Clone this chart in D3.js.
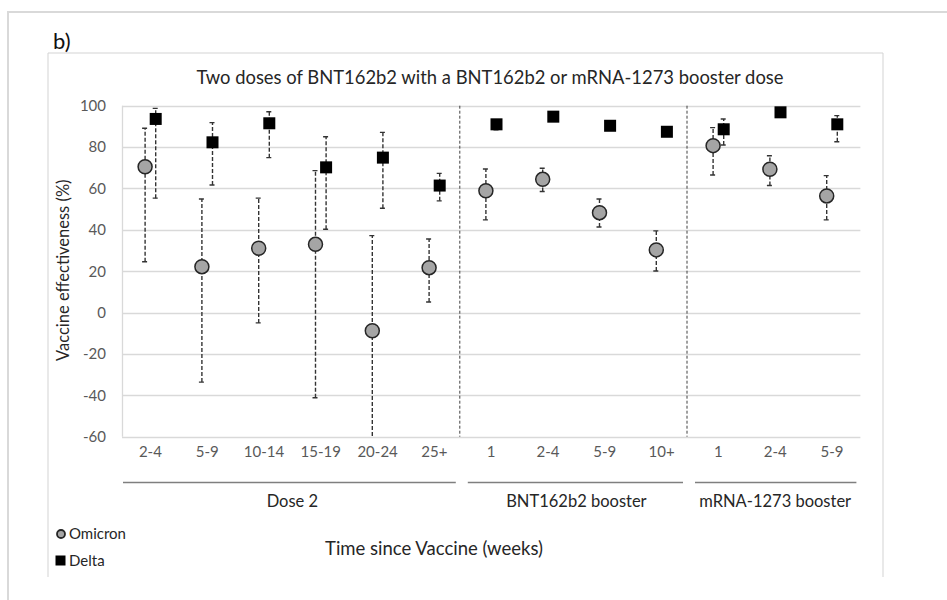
<!DOCTYPE html>
<html>
<head>
<meta charset="utf-8">
<script src="https://cdn.jsdelivr.net/npm/d3@7"></script>
<style>
  body { margin: 0; background: #fff; }
  svg { display: block; font-family: Lato, "Open Sans", sans-serif; }
</style>
</head>
<body>
<div id="chart"></div>
<script>
// categories along the x axis (weeks since vaccine), in plot order
var categories = ["2-4", "5-9", "10-14", "15-19", "20-24", "25+", "1", "2-4", "5-9", "10+", "1", "2-4", "5-9"];

// groups under the x axis and how many categories each covers
var groupNames = ["Dose 2", "BNT162b2 booster", "mRNA-1273 booster"];
var groupSizes = [6, 4, 3];

// Omicron vaccine effectiveness (%) with 95% CI
var omicronVE = [70.5, 22.2, 31.1, 33.0, -8.8, 21.7, 58.9, 64.4, 48.3, 30.3, 80.7, 69.3, 56.4];
var omicronLo = [24.6, -33.6, -5.0, -41.2, -80.0, 5.1, 44.8, 58.5, 41.4, 20.1, 66.5, 61.4, 44.8];
var omicronHi = [89.1, 54.9, 55.3, 68.6, 37.2, 35.6, 69.4, 69.8, 54.9, 39.5, 89.4, 75.8, 66.2];

// Delta vaccine effectiveness (%) with 95% CI
var deltaVE = [93.6, 82.3, 91.5, 70.2, 74.9, 61.4, 91.0, 94.7, 90.3, 87.4, 88.6, 96.8, 91.0];
var deltaLo = [55.3, 61.7, 74.9, 40.3, 50.4, 54.0, 88.3, 94.0, 89.5, 86.5, 81.0, 96.0, 82.6];
var deltaHi = [98.7, 91.8, 97.1, 85.0, 87.1, 67.3, 92.5, 95.5, 91.0, 88.5, 93.6, 98.0, 95.2];

// y axis ticks
var yTicks = [-60, -40, -20, 0, 20, 40, 60, 80, 100];

var width = 947;
var height = 600;

// plot area
var plotLeft = 122;
var plotRight = 860.4;
var plotTop = 105.7;
var plotBottom = 436.7;

var svg = d3
  .select("#chart")
  .append("svg")
  .attr("width", width)
  .attr("height", height);

// outer frame (top and left edges only show)
svg.append("path")
  .attr("d", "M8,600 L8,12 L947,12")
  .attr("fill", "none")
  .attr("stroke", "#d9d9d9")
  .attr("stroke-width", 2);

// inner chart box: top, left and right
svg.append("path")
  .attr("d", "M48,577 L48,53 L883,53 L883,577")
  .attr("fill", "none")
  .attr("stroke", "#d3d3d3")
  .attr("stroke-width", 1);

svg.append("text")
  .attr("x", 53)
  .attr("y", 49)
  .attr("font-size", 22)
  .attr("fill", "#111")
  .text("b)");

// scales
var xScale = d3
  .scaleBand()
  .domain(d3.range(categories.length))
  .range([plotLeft, plotRight]);

var yScale = d3
  .scaleLinear()
  .domain([-60, 100])
  .range([plotBottom, plotTop]);

var step = xScale.bandwidth();
var shift = 5.3;

// gridlines
svg.append("g")
  .attr("class", "grid")
  .selectAll("line")
  .data(yTicks)
  .enter()
  .append("line")
  .attr("x1", plotLeft)
  .attr("x2", plotRight)
  .attr("y1", function(d) { return Math.round(yScale(d)) + 0.5; })
  .attr("y2", function(d) { return Math.round(yScale(d)) + 0.5; })
  .attr("stroke", "#d9d9d9")
  .attr("stroke-width", 1.3);

// left axis line
svg.append("line")
  .attr("x1", plotLeft + 0.5)
  .attr("x2", plotLeft + 0.5)
  .attr("y1", plotTop)
  .attr("y2", plotBottom)
  .attr("stroke", "#d9d9d9")
  .attr("stroke-width", 1.3);

// y axis labels (plain hyphen for negatives, like the source)
var yAxis = d3.axisLeft(yScale)
  .tickValues(yTicks)
  .tickFormat(function(d) { return String(d); })
  .tickSize(0)
  .tickPadding(16);
var yG = svg.append("g")
  .attr("transform", "translate(" + plotLeft + ",0)")
  .call(yAxis);
yG.select(".domain").remove();
yG.selectAll("text")
  .attr("font-family", "Lato, 'Open Sans', sans-serif")
  .attr("font-size", 15)
  .attr("fill", "#595959");

// y axis title
svg.append("text")
  .attr("transform", "translate(69," + ((plotTop + plotBottom) / 2 - 1) + ") rotate(-90)")
  .attr("text-anchor", "middle")
  .attr("font-size", 16.5)
  .attr("fill", "#262626")
  .text("Vaccine effectiveness (%)");

// x axis category labels
var xAxis = d3.axisBottom(xScale)
  .tickFormat(function(i) { return categories[i]; })
  .tickSize(0)
  .tickPadding(10);
var xG = svg.append("g")
  .attr("transform", "translate(0," + plotBottom + ")")
  .call(xAxis);
xG.select(".domain").remove();
xG.selectAll("text")
  .attr("font-family", "Lato, 'Open Sans', sans-serif")
  .attr("font-size", 15)
  .attr("fill", "#595959");

// dashed dividers between groups
var divIdx = [];
var acc = 0;
groupSizes.forEach(function(n, i) {
  if (i > 0) divIdx.push(acc);
  acc += n;
});
svg.selectAll(".divider")
  .data(divIdx)
  .enter()
  .append("line")
  .attr("class", "divider")
  .attr("x1", function(i) { return xScale(i) - 3; })
  .attr("x2", function(i) { return xScale(i) - 3; })
  .attr("y1", plotTop)
  .attr("y2", plotBottom)
  .attr("stroke", "#404040")
  .attr("stroke-width", 1)
  .attr("stroke-dasharray", "3,2");

// group lines and names under the axis
var groupData = [];
acc = 0;
groupNames.forEach(function(name, i) {
  groupData.push({ name: name, start: acc, end: acc + groupSizes[i] - 1 });
  acc += groupSizes[i];
});
var grp = svg.selectAll(".group")
  .data(groupData)
  .enter()
  .append("g")
  .attr("class", "group");
grp.append("line")
  .attr("x1", function(d) { return xScale(d.start) + (d.start === 0 ? 1 : 5); })
  .attr("x2", function(d) { return xScale(d.end) + step - (d.end === categories.length - 1 ? 4 : 7); })
  .attr("y1", 482.5)
  .attr("y2", 482.5)
  .attr("stroke", "#7f7f7f")
  .attr("stroke-width", 1.5);
grp.append("text")
  .attr("x", function(d) { return (xScale(d.start) + xScale(d.end) + step) / 2; })
  .attr("y", 507)
  .attr("text-anchor", "middle")
  .attr("font-size", 16.5)
  .attr("fill", "#262626")
  .text(function(d) { return d.name; });

// x axis title
svg.append("text")
  .attr("x", 434)
  .attr("y", 555)
  .attr("text-anchor", "middle")
  .attr("font-size", 18.5)
  .attr("fill", "#262626")
  .text("Time since Vaccine (weeks)");

// title
svg.append("text")
  .attr("x", 490)
  .attr("y", 84)
  .attr("text-anchor", "middle")
  .attr("font-size", 18.4)
  .attr("fill", "#262626")
  .text("Two doses of BNT162b2 with a BNT162b2 or mRNA-1273 booster dose");

// clip to plot area for long error bars
svg.append("clipPath")
  .attr("id", "plotClip")
  .append("rect")
  .attr("x", plotLeft)
  .attr("y", plotTop - 10)
  .attr("width", plotRight - plotLeft)
  .attr("height", plotBottom - plotTop + 10);

var marks = svg.append("g").attr("clip-path", "url(#plotClip)");

// error bars with small caps
function drawErrors(ve, lo, hi, dx, cls) {
  var rows = ve.map(function(v, i) { return { i: i, v: v, lo: lo[i], hi: hi[i] }; });
  var g = marks.selectAll("g." + cls)
    .data(rows)
    .enter()
    .append("g")
    .attr("class", cls);
  g.append("line")
    .attr("x1", function(d) { return xScale(d.i) + step / 2 + dx; })
    .attr("x2", function(d) { return xScale(d.i) + step / 2 + dx; })
    .attr("y1", function(d) { return yScale(d.lo); })
    .attr("y2", function(d) { return yScale(d.hi); })
    .attr("stroke", "#333")
    .attr("stroke-width", 1.4)
    .attr("stroke-dasharray", "4,2");
  ["lo", "hi"].forEach(function(k) {
    g.append("line")
      .attr("x1", function(d) { return xScale(d.i) + step / 2 + dx - 3; })
      .attr("x2", function(d) { return xScale(d.i) + step / 2 + dx + 2; })
      .attr("y1", function(d) { return yScale(d[k]); })
      .attr("y2", function(d) { return yScale(d[k]); })
      .attr("stroke", "#333")
      .attr("stroke-width", 1.4);
  });
}

drawErrors(omicronVE, omicronLo, omicronHi, -shift, "errO");
drawErrors(deltaVE, deltaLo, deltaHi, shift, "errD");

// omicron circles
marks.selectAll("circle.omicron")
  .data(omicronVE)
  .enter()
  .append("circle")
  .attr("class", "omicron")
  .attr("cx", function(d, i) { return xScale(i) + step / 2 - shift; })
  .attr("cy", function(d) { return yScale(d); })
  .attr("r", 7)
  .attr("fill", "#a5a5a5")
  .attr("stroke", "#262626")
  .attr("stroke-width", 1.5);

// delta squares
var sq = 12;
marks.selectAll("rect.delta")
  .data(deltaVE)
  .enter()
  .append("rect")
  .attr("class", "delta")
  .attr("x", function(d, i) { return xScale(i) + step / 2 + shift - sq / 2; })
  .attr("y", function(d) { return yScale(d) - sq / 2; })
  .attr("width", sq)
  .attr("height", sq)
  .attr("fill", "#000");

// legend
var legend = svg.append("g").attr("class", "legend");
legend.append("circle")
  .attr("cx", 61)
  .attr("cy", 534)
  .attr("r", 4)
  .attr("fill", "#a5a5a5")
  .attr("stroke", "#262626")
  .attr("stroke-width", 1.8);
legend.append("text")
  .attr("x", 69)
  .attr("y", 539)
  .attr("font-size", 15)
  .attr("fill", "#262626")
  .text("Omicron");
legend.append("rect")
  .attr("x", 55.5)
  .attr("y", 555.5)
  .attr("width", 10)
  .attr("height", 10)
  .attr("fill", "#000");
legend.append("text")
  .attr("x", 69)
  .attr("y", 566)
  .attr("font-size", 15)
  .attr("fill", "#262626")
  .text("Delta");
</script>
</body>
</html>
